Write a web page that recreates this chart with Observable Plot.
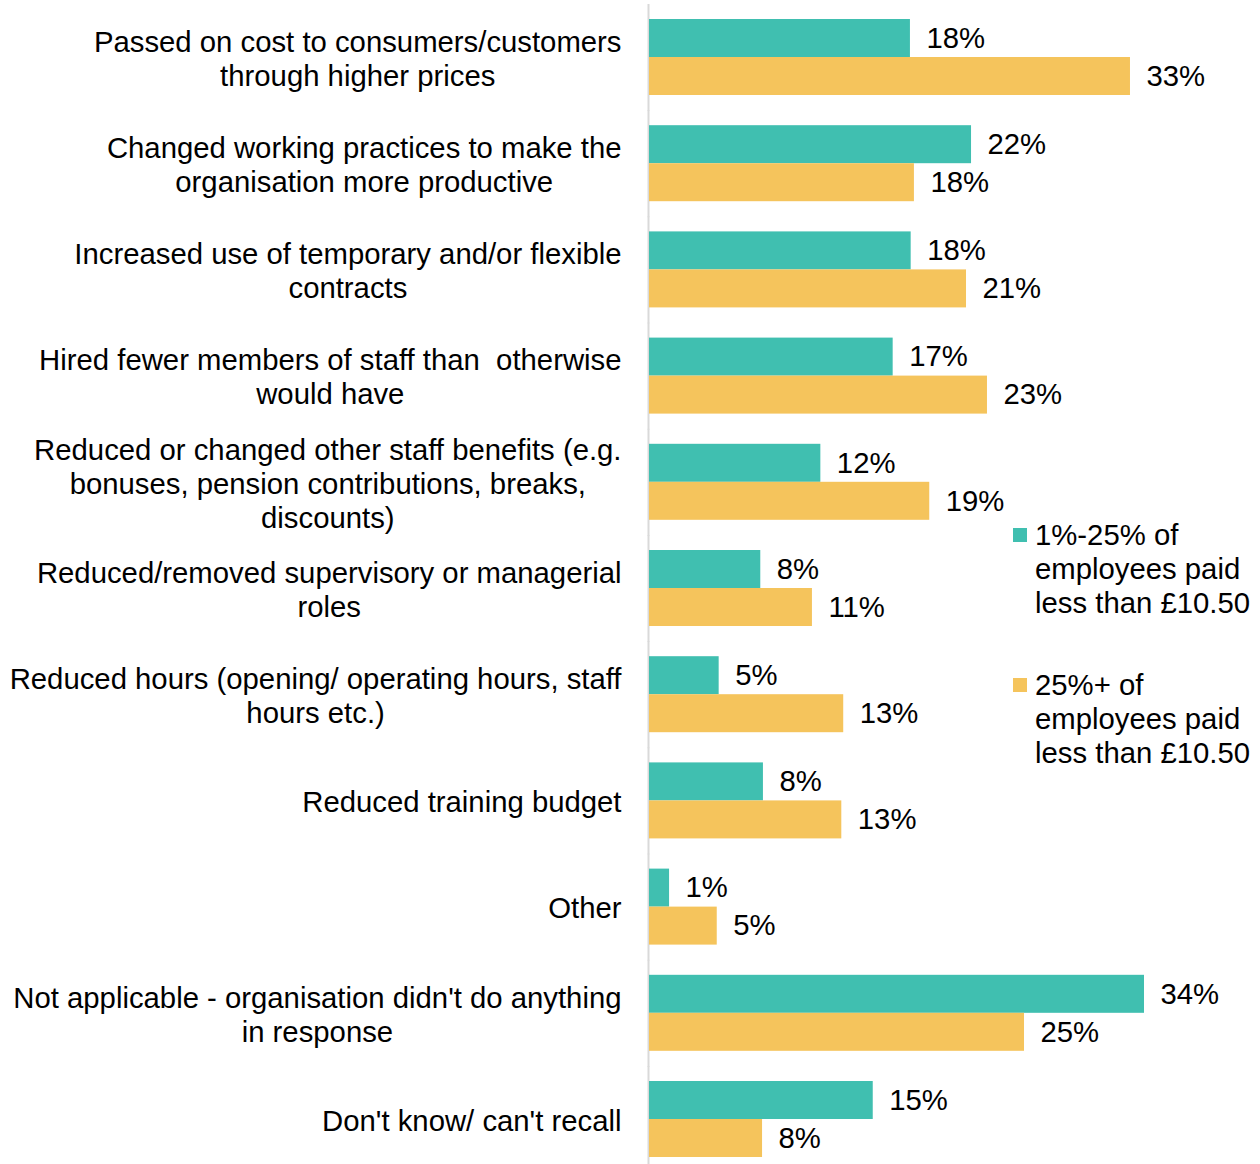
<!DOCTYPE html>
<html>
<head>
<meta charset="utf-8">
<script src="https://cdn.jsdelivr.net/npm/d3@7"></script>
<script src="https://cdn.jsdelivr.net/npm/@observablehq/plot@0.6"></script>
<style>
  html, body { margin: 0; padding: 0; background: #fff; }
  #wrap { position: relative; width: 1260px; height: 1164px; font-family: "Liberation Sans", Arial, sans-serif; color: #000; }
  #legend { position: absolute; left: 1013px; top: 518px; font-size: 29.3px; line-height: 34px; }
  .item { display: flex; align-items: flex-start; }
  .item + .item { margin-top: 48px; }
  .sw { width: 14px; height: 14px; margin-top: 10px; margin-right: 8px; flex: none; }
</style>
</head>
<body>
<div id="wrap"><div id="chart"></div><div id="legend"></div></div>
<script>
const categories = [
  "Passed on cost to consumers/customers\nthrough higher prices",
  "Changed working practices to make the\norganisation more productive",
  "Increased use of temporary and/or flexible\ncontracts",
  "Hired fewer members of staff than\u00a0 otherwise\nwould have",
  "Reduced or changed other staff benefits (e.g.\nbonuses, pension contributions, breaks,\ndiscounts)",
  "Reduced/removed supervisory or managerial\nroles",
  "Reduced hours (opening/ operating hours, staff\nhours etc.)",
  "Reduced training budget",
  "Other",
  "Not applicable - organisation didn't do anything\nin response",
  "Don't know/ can't recall"
];
const seriesNames = [
  "1%-25% of\nemployees paid\nless than £10.50",
  "25%+ of\nemployees paid\nless than £10.50"
];
// Shares in percent (bar lengths; labels show them rounded)
const lowShare = [17.68, 21.82, 17.73, 16.51, 11.61, 7.54, 4.72, 7.72, 1.36, 33.54, 15.16];
const highShare = [32.59, 17.95, 21.48, 22.90, 18.99, 11.04, 13.16, 13.03, 4.59, 25.41, 7.66];
const colors = ["#40bfb0", "#f5c45c"];

const rows = [];
categories.forEach((c, i) => {
  rows.push({cat: c, series: seriesNames[0], value: lowShare[i]});
  rows.push({cat: c, series: seriesNames[1], value: highShare[i]});
});

const FONT_SIZE = 29.3;
const FONT = FONT_SIZE + "px 'Liberation Sans', Arial, sans-serif";
const ctx = document.createElement("canvas").getContext("2d");
ctx.font = FONT;
const maxLineWidth = s => Math.max(...s.split("\n").map(l => ctx.measureText(l).width));

const labelMarks = categories.map(c => Plot.text([c], {
  fy: d => d,
  x: () => 0,
  text: d => d,
  textAnchor: "middle",
  lineAnchor: "middle",
  lineHeight: 34 / FONT_SIZE,
  dx: -(28 + maxLineWidth(c) / 2)
}));

const chart = Plot.plot({
  width: 1260,
  height: 1164,
  marginLeft: 649,
  marginRight: 0,
  marginTop: 19,
  marginBottom: 6,
  style: {fontSize: FONT_SIZE + "px", fontFamily: "'Liberation Sans', Arial, sans-serif", color: "#000", background: "#fff", overflow: "visible"},
  x: {domain: [0, 41.4], axis: null},
  y: {domain: seriesNames, padding: 0, axis: null},
  fy: {domain: categories, paddingInner: 0.275, paddingOuter: 0, round: false, axis: null},
  color: {domain: seriesNames, range: colors},
  marks: [
    Plot.ruleX([0], {stroke: "#d9d9d9", strokeWidth: 2, dx: -1, insetTop: -15, insetBottom: -15}),
    Plot.barX(rows, {x: "value", y: "series", fy: "cat", fill: "series"}),
    Plot.text(rows, {x: "value", y: "series", fy: "cat", text: d => Math.round(d.value) + "%", textAnchor: "start", dx: 16}),
    ...labelMarks
  ]
});
document.getElementById("chart").appendChild(chart);

const legend = document.getElementById("legend");
seriesNames.forEach((s, i) => {
  const item = document.createElement("div");
  item.className = "item";
  const sw = document.createElement("div");
  sw.className = "sw";
  sw.style.background = colors[i];
  const tx = document.createElement("div");
  tx.innerHTML = s.split("\n").join("<br>");
  item.appendChild(sw);
  item.appendChild(tx);
  legend.appendChild(item);
});
</script>
</body>
</html>
